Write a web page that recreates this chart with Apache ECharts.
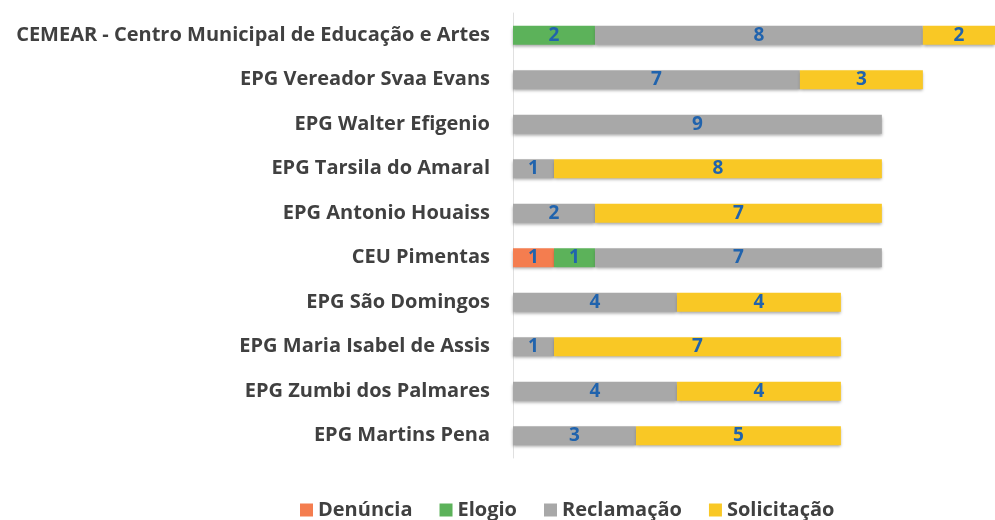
<!DOCTYPE html>
<html>
<head>
<meta charset="utf-8">
<script src="https://cdn.jsdelivr.net/npm/echarts@6/dist/echarts.min.js"></script>
<style>
  html, body { margin: 0; padding: 0; background: #fff; }
  #main { width: 995px; height: 520px; }
</style>
</head>
<body>
<div id="main"></div>
<script>
// categorias (de cima para baixo)
var escolas = [
    'CEMEAR - Centro Municipal de Educação e Artes',
    'EPG Vereador Svaa Evans',
    'EPG Walter Efigenio',
    'EPG Tarsila do Amaral',
    'EPG Antonio Houaiss',
    'CEU Pimentas',
    'EPG São Domingos',
    'EPG Maria Isabel de Assis',
    'EPG Zumbi dos Palmares',
    'EPG Martins Pena'
];
var denuncia    = [0, 0, 0, 0, 0, 1, 0, 0, 0, 0];
var elogio      = [2, 0, 0, 0, 0, 1, 0, 0, 0, 0];
var reclamacao  = [8, 7, 9, 1, 2, 7, 4, 1, 4, 3];
var solicitacao = [2, 3, 0, 8, 7, 0, 4, 7, 4, 5];

var nomes = ['Denúncia', 'Elogio', 'Reclamação', 'Solicitação'];
var cores = ['#f47d4f', '#5cb25a', '#a8a8a8', '#f9c825'];

var fonte = 'Open Sans';

function serie(nome, dados, cor){
    return {
        name: nome,
        type: 'bar',
        stack: 'total',
        barWidth: 19,
        data: dados.map(function(v){ return v === 0 ? null : v; }),
        itemStyle: {
            color: cor,
            shadowColor: 'rgba(0,0,0,0.35)',
            shadowBlur: 3,
            shadowOffsetY: 2
        },
        label: {
            show: true,
            position: 'inside',
            color: '#2063ad',
            fontFamily: fonte,
            fontWeight: 'bold',
            fontSize: 19
        }
    };
}

var myChart = echarts.init(document.getElementById('main'));
var option = {
    animation: false,
    textStyle: { fontFamily: fonte },
    grid: { left: 513, right: 0, top: 13, bottom: 62 },
    legend: {
        left: 295,
        top: 495,
        itemWidth: 13,
        itemHeight: 13,
        itemGap: 27,
        itemTextGap: 4,
        icon: 'rect',
        textStyle: { fontFamily: fonte, fontWeight: 'bold', fontSize: 20, color: '#404040' },
        data: nomes
    },
    xAxis: {
        type: 'value',
        min: 0,
        max: 11.76,
        show: false
    },
    yAxis: {
        type: 'category',
        inverse: true,
        data: escolas,
        axisLine: { show: true, lineStyle: { color: '#e0e0e0', width: 1 } },
        axisTick: { show: false },
        axisLabel: {
            margin: 23,
            color: '#404040',
            fontFamily: fonte,
            fontWeight: 'bold',
            fontSize: 20
        }
    },
    series: [
        serie(nomes[0], denuncia, cores[0]),
        serie(nomes[1], elogio, cores[1]),
        serie(nomes[2], reclamacao, cores[2]),
        serie(nomes[3], solicitacao, cores[3])
    ]
};
myChart.setOption(option);
</script>
</body>
</html>
